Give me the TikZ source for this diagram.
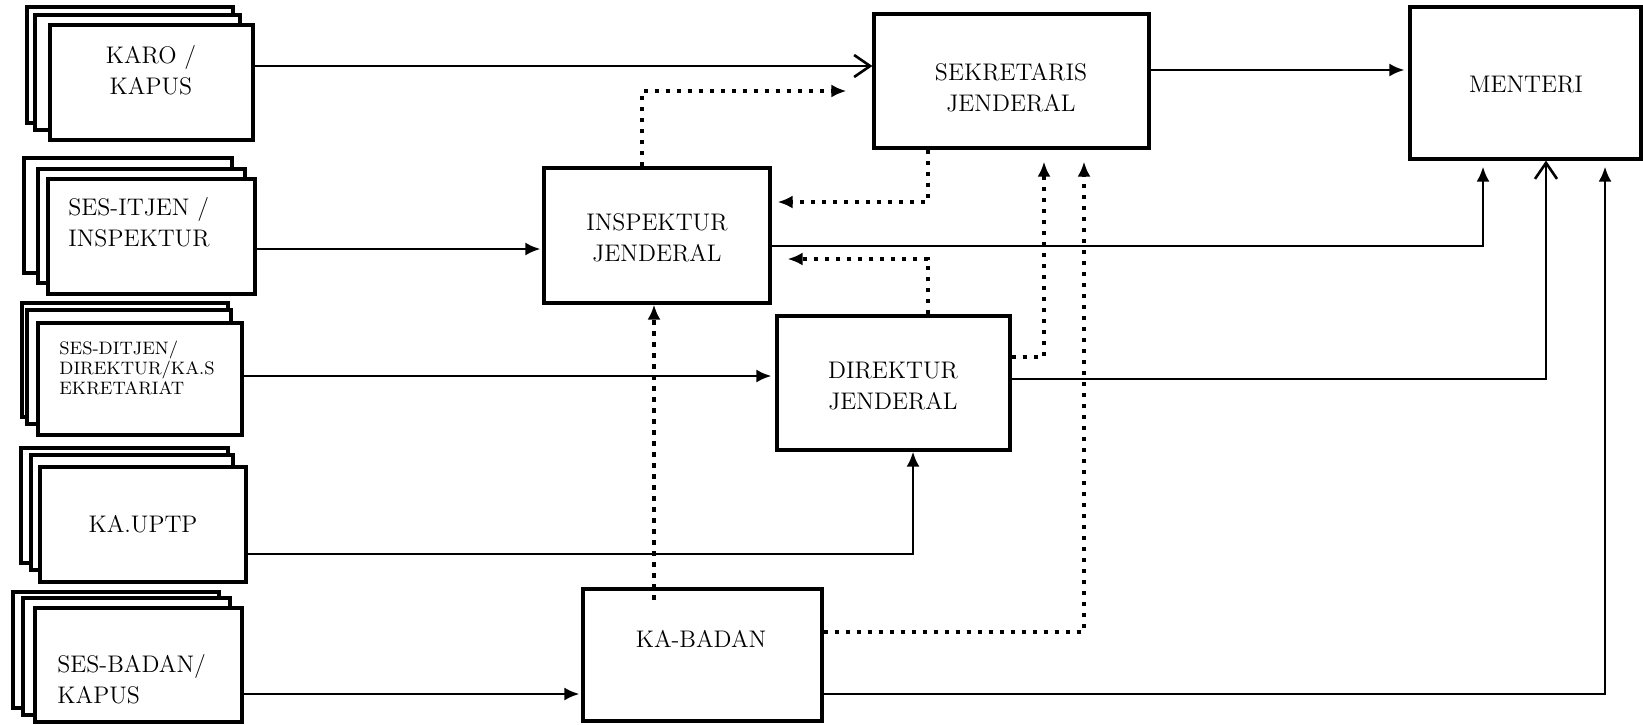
\documentclass[tikz,border=0pt]{standalone}
\usetikzlibrary{arrows.meta,fit}
\begin{document}
\begin{tikzpicture}[x=0.5pt,y=-0.5pt,
  box/.style={draw, line width=1.6pt, fill=white, inner sep=0pt},
  txt/.style={font=\fontsize{12}{15.5}\selectfont, align=center, inner sep=0pt},
  smalltxt/.style={font=\fontsize{9}{10}\selectfont, align=left, inner sep=0pt, anchor=west},
  conn/.style={line width=1.3pt},
  farr/.style={conn, -{Latex[length=7.5pt,width=6.5pt]}},
  oarr/.style={conn, -{Straight Barb[length=8pt,width=11pt,line width=1.3pt]}},
  dots/.style={line width=2.3pt, dash pattern=on 2.3pt off 3.2pt},
  darr/.style={dots, -{Latex[length=7.5pt,width=6.5pt]}}]
\useasboundingbox (0,0) rectangle (1643,724);
\fill[white] (0,0) rectangle (1643,724);

% left stacks
\node[box, fit={(27,7) (233,123)}] (karo3) {};
\node[box, fit={(35,15) (240,130)}] (karo2) {};
\node[box, fit={(50,25) (253,140)}] (karo1) {};
\node[txt] (karot) at (151,70) {KARO /\\KAPUS};

\node[box, fit={(24,158) (232,273)}] (itjen3) {};
\node[box, fit={(38,169) (245,283)}] (itjen2) {};
\node[box, fit={(48,179) (255,294)}] (itjen1) {};
\node[txt, align=left, anchor=west] (itjent) at (68,222) {SES-ITJEN /\\INSPEKTUR};

\node[box, fit={(22,303) (228,417)}] (ditjen3) {};
\node[box, fit={(27,310) (231,424)}] (ditjen2) {};
\node[box, fit={(38,323) (242,435)}] (ditjen1) {};
\node[smalltxt] (ditjent) at (59,368) {SES-DITJEN/\\DIREKTUR/KA.S\\EKRETARIAT};

\node[box, fit={(21,448) (228,563)}] (uptp3) {};
\node[box, fit={(31,455) (233,570)}] (uptp2) {};
\node[box, fit={(40,467) (246,582)}] (uptp1) {};
\node[txt] (uptpt) at (143,524) {KA.UPTP};

\node[box, fit={(13,592) (219,708)}] (badan3) {};
\node[box, fit={(23,598) (230,715)}] (badan2) {};
\node[box, fit={(35,608) (242,722)}] (badan1) {};
\node[txt, align=left, anchor=west] (badant) at (57,679) {SES-BADAN/\\KAPUS};

% main boxes
\node[box, fit={(874,14) (1149,148)}] (sek) {};
\node[txt] (sekt) at (1011,88) {SEKRETARIS\\JENDERAL};
\node[box, fit={(1410,7) (1641,159)}] (men) {};
\node[txt] (ment) at (1526,85) {MENTERI};
\node[box, fit={(544,168) (770,303)}] (insp) {};
\node[txt] (inspt) at (657,238) {INSPEKTUR\\JENDERAL};
\node[box, fit={(777,316) (1010,450)}] (dir) {};
\node[txt] (dirt) at (893,386) {DIREKTUR\\JENDERAL};
\node[box, fit={(583,589) (822,721)}] (kab) {};
\node[txt] (kabt) at (701,639) {KA-BADAN};

% solid connectors
\draw[oarr] (karo1.east |- 0,66) -- (sek.west |- 0,66);
\draw[farr, shorten >=2pt] (sek.east |- 0,70) -- (men.west |- 0,70);
\draw[farr, shorten >=1pt] (itjen1.east |- 0,249) -- (insp.west |- 0,249);
\draw[farr, shorten >=3pt] (insp.east |- 0,246) -| (men.south -| 1483,0);
\draw[farr, shorten >=2pt] (ditjen1.east |- 0,376) -- (dir.west |- 0,376);
\draw[oarr] (dir.east |- 0,379) -| (men.south -| 1546,0);
\draw[farr] (uptp1.east |- 0,554) -| (dir.south -| 913,0);
\draw[farr, shorten >=1pt] (badan1.east |- 0,694) -- (kab.west |- 0,694);
\draw[farr, shorten >=3pt] (kab.east |- 0,694) -| (men.south -| 1605,0);

% dotted connectors
\draw[darr, shorten >=13pt] (insp.north -| 642,0) |- (sek.west |- 0,91);
\draw[darr, shorten >=3pt] (sek.south -| 928,0) |- (insp.east |- 0,202);
\draw[darr, shorten >=8pt] (dir.north -| 928,0) |- (insp.east |- 0,259);
\draw[darr, shorten >=6pt] (dir.east |- 0,357) -| (sek.south -| 1044,0);
\draw[darr, shorten >=6pt] (kab.east |- 0,632) -| (sek.south -| 1084,0);
\coordinate (kabin) at (654,600);
\draw[darr] (kabin) -- (insp.south -| kabin);
\end{tikzpicture}
\end{document}
